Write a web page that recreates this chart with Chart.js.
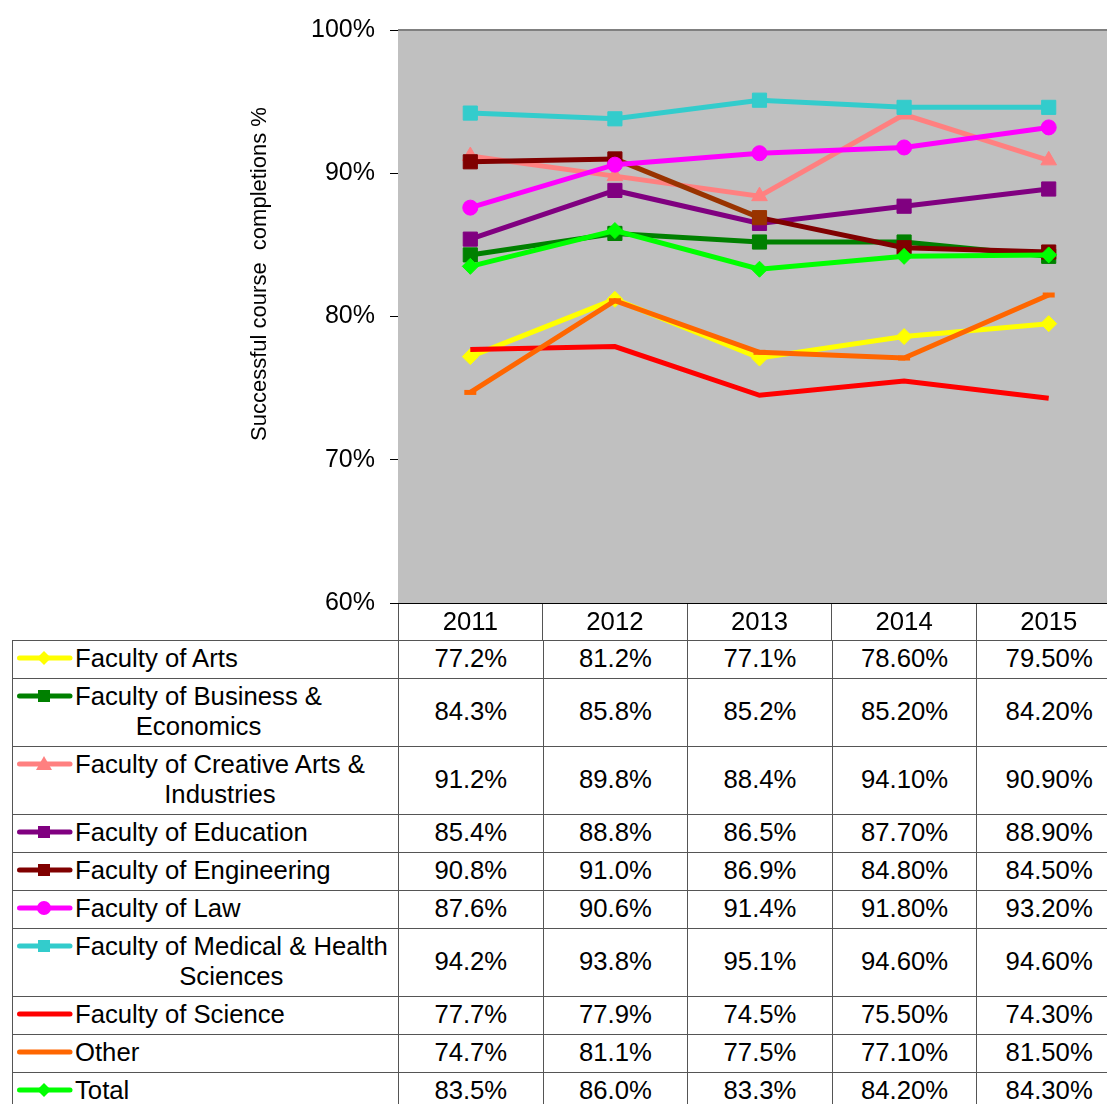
<!DOCTYPE html>
<html>
<head>
<meta charset="utf-8">
<script src="https://cdn.jsdelivr.net/npm/chart.js@4"></script>
<style>
html, body { margin:0; padding:0; overflow:hidden; background:#fff; }
#wrap { position:relative; width:1121px; height:1104px; }
#chart { display:block; }
#table { position:absolute; left:12px; top:640px; border-collapse:collapse; table-layout:fixed;
  font-family:"Liberation Sans", Arial, sans-serif; font-size:25.7px; color:#000; }
#table td { border:1px solid #555; padding:2px 0 5px; line-height:30px; text-align:center;
  vertical-align:middle; white-space:nowrap; overflow:hidden; }
#table td.lab { text-align:left; vertical-align:top; padding-left:4px; }
.key { display:inline-block; vertical-align:top; }
.name { display:inline-block; vertical-align:top; text-align:center; }
</style>
</head>
<body>
<div id="wrap">
  <canvas id="chart" width="1121" height="640"></canvas>
  <table id="table"></table>
</div>
<script>
var years = ['2011', '2012', '2013', '2014', '2015'];
var tableDecimals = [1, 1, 1, 2, 2];
var yTicks = [60, 70, 80, 90, 100];

var names = [
  'Faculty of Arts',
  'Faculty of Business & Economics',
  'Faculty of Creative Arts & Industries',
  'Faculty of Education',
  'Faculty of Engineering',
  'Faculty of Law',
  'Faculty of Medical & Health Sciences',
  'Faculty of Science',
  'Other',
  'Total'
];

var arts        = [77.2, 81.2, 77.1, 78.6, 79.5];
var business    = [84.3, 85.8, 85.2, 85.2, 84.2];
var creative    = [91.2, 89.8, 88.4, 94.1, 90.9];
var education   = [85.4, 88.8, 86.5, 87.7, 88.9];
var engineering = [90.8, 91.0, 86.9, 84.8, 84.5];
var law         = [87.6, 90.6, 91.4, 91.8, 93.2];
var medical     = [94.2, 93.8, 95.1, 94.6, 94.6];
var science     = [77.7, 77.9, 74.5, 75.5, 74.3];
var other       = [74.7, 81.1, 77.5, 77.1, 81.5];
var total       = [83.5, 86.0, 83.3, 84.2, 84.3];

var values = [arts, business, creative, education, engineering, law, medical, science, other, total];

// styles
var colors  = ['#FFFF00', '#008000', '#FF8080', '#800080', '#800000', '#FF00FF', '#33CCCC', '#FF0000', '#FF6600', '#00FF00'];
var markers = ['diamond', 'square', 'triangle', 'square', 'square', 'circle', 'square', 'none', 'dash', 'diamond'];
var markerStyle = {
  diamond:  { pointStyle: 'rectRot',  radius: 8 },
  square:   { pointStyle: 'rect',     radius: 10 },
  triangle: { pointStyle: 'triangle', radius: 9 },
  circle:   { pointStyle: 'circle',   radius: 7.5 },
  dash:     { pointStyle: 'line',     radius: 6 },
  none:     { pointStyle: false,      radius: 0 }
};
var engHighlight = '#993300'; // the 2013 engineering point is drawn in brown
var FONT = '"Liberation Sans", Arial, sans-serif';
var TABLE_FONT = '25.7px ' + FONT;

var datasets = values.map(function(vals, i) {
  var m = markerStyle[markers[i]];
  var c = colors[i];
  var ds = {
    label: names[i],
    data: vals,
    borderColor: c,
    backgroundColor: c,
    borderWidth: 5,
    tension: 0,
    pointStyle: m.pointStyle,
    pointRadius: m.radius,
    pointBorderWidth: markers[i] == 'dash' ? 5 : 1,
    pointBackgroundColor: c,
    pointBorderColor: c,
    order: values.length - i
  };
  if (i == 4) {
    ds.segment = { borderColor: function(ctx) { return ctx.p1DataIndex == 2 ? engHighlight : undefined; } };
    ds.pointBackgroundColor = function(ctx) { return ctx.dataIndex == 2 ? engHighlight : c; };
    ds.pointBorderColor = ds.pointBackgroundColor;
  }
  return ds;
});

var plotBg = {
  id: 'plotBg',
  beforeDatasetsDraw: function(chart) {
    var a = chart.chartArea, ctx = chart.ctx;
    ctx.save();
    ctx.fillStyle = '#C0C0C0';
    ctx.fillRect(a.left, a.top, a.right - a.left, a.bottom - a.top);
    ctx.strokeStyle = '#808080';
    ctx.lineWidth = 2;
    ctx.beginPath();
    ctx.moveTo(a.left, a.top);
    ctx.lineTo(a.right, a.top);
    ctx.lineTo(a.right, a.bottom);
    ctx.stroke();
    ctx.restore();
  },
  afterDraw: function(chart) {
    // y axis title
    var ctx = chart.ctx;
    ctx.save();
    ctx.translate(260, 274);
    ctx.rotate(-Math.PI / 2);
    ctx.font = '22px ' + FONT;
    ctx.fillStyle = '#000';
    ctx.textAlign = 'center';
    ctx.textBaseline = 'middle';
    ctx.fillText('Successful course  completions %', 0, 0);
    ctx.restore();
  }
};

var chart = new Chart(document.getElementById('chart'), {
  type: 'line',
  data: { labels: years, datasets: datasets },
  options: {
    responsive: false,
    animation: false,
    layout: { autoPadding: false, padding: { top: 28, left: 0, right: 0, bottom: 0 } },
    plugins: { legend: { display: false }, tooltip: { enabled: false } },
    scales: {
      x: {
        offset: true,
        grid: { offset: true, drawOnChartArea: false, drawTicks: true, tickLength: 37, color: '#555' },
        border: { color: '#000', width: 1 },
        ticks: { color: '#000', font: { family: FONT, size: 25.7 }, padding: -33, maxRotation: 0 },
        afterFit: function(s) { s.height = 37; }
      },
      y: {
        min: 60, max: 100,
        afterBuildTicks: function(s) { s.ticks = yTicks.map(function(v) { return { value: v }; }); },
        grid: { drawOnChartArea: false, drawTicks: true, tickLength: 8, color: '#000' },
        border: { color: '#000', width: 1 },
        ticks: { color: '#000', font: { family: FONT, size: 25 }, padding: 15,
                 callback: function(v) { return v + '%'; } },
        afterFit: function(s) { s.width = 398; }
      }
    }
  },
  plugins: [plotBg]
});

// data table under the chart, columns lined up with the x scale
function keySvg(color, marker) {
  var cx = 27, cy = 15;
  var s = '<svg class="key" width="58" height="30">' +
    '<line x1="2.5" y1="15" x2="53" y2="15" stroke="' + color + '" stroke-width="5" stroke-linecap="round"/>';
  if (marker == 'diamond') s += '<polygon points="' + cx + ',' + (cy - 7) + ' ' + (cx + 7) + ',' + cy + ' ' + cx + ',' + (cy + 7) + ' ' + (cx - 7) + ',' + cy + '" fill="' + color + '"/>';
  if (marker == 'square') s += '<rect x="' + (cx - 6) + '" y="' + (cy - 6) + '" width="12" height="12" fill="' + color + '"/>';
  if (marker == 'triangle') s += '<polygon points="' + cx + ',' + (cy - 8) + ' ' + (cx + 8) + ',' + (cy + 6) + ' ' + (cx - 8) + ',' + (cy + 6) + '" fill="' + color + '"/>';
  if (marker == 'circle') s += '<circle cx="' + cx + '" cy="' + cy + '" r="7" fill="' + color + '"/>';
  return s + '</svg>';
}

// wrap a label into lines no wider than maxW, so the block shrinks to its longest line
var measure = document.createElement('canvas').getContext('2d');
measure.font = TABLE_FONT;
function wrapLabel(text, maxW) {
  var words = text.split(' '), lines = [], cur = '';
  words.forEach(function(w) {
    var t = cur ? cur + ' ' + w : w;
    if (cur && measure.measureText(t).width > maxW) { lines.push(cur); cur = w; }
    else cur = t;
  });
  lines.push(cur);
  return lines.map(function(l) { return l.replace(/&/g, '&amp;'); }).join('<br>');
}

var xs = chart.scales.x;
var colW = (xs.right - xs.left) / years.length;
var labelW = xs.left - 12;
var html = '<colgroup><col style="width:' + labelW + 'px">';
years.forEach(function() { html += '<col style="width:' + colW + 'px">'; });
html += '</colgroup>';
names.forEach(function(n, i) {
  html += '<tr><td class="lab">' + keySvg(colors[i], markers[i]) +
    '<span class="name">' + wrapLabel(n, labelW - 64) + '</span></td>';
  values[i].forEach(function(v, j) {
    html += '<td>' + v.toFixed(tableDecimals[j]) + '%</td>';
  });
  html += '</tr>';
});
var table = document.getElementById('table');
table.style.width = (xs.right - 12) + 'px';
table.innerHTML = html;
</script>
</body>
</html>
